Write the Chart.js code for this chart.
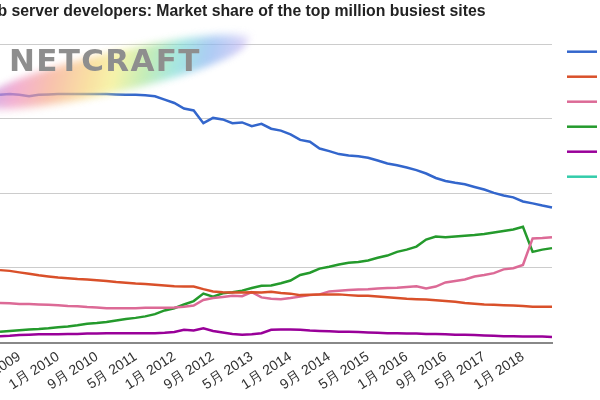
<!DOCTYPE html>
<html>
<head>
<meta charset="utf-8">
<script src="https://cdn.jsdelivr.net/npm/chart.js@4.4.1/dist/chart.umd.min.js"></script>
<style>
  html, body { margin: 0; padding: 0; background: #ffffff; }
  #frame { position: relative; width: 600px; height: 400px; overflow: hidden; background: #ffffff; }
  #wrap { position: absolute; left: -26px; top: 0; width: 673px; height: 400px; }
  #swash {
    position: absolute; left: -20px; top: 52px; width: 270px; height: 40px;
    background: linear-gradient(90deg, #b98ee6 0%, #ee8fbf 12%, #f6a98a 26%, #f7d27c 40%, #f3ef86 50%, #abe59a 62%, #7fdcd6 74%, #8ab6f0 86%, #cdbcf3 100%);
    border-radius: 50% 45% 50% 45%;
    transform: rotate(-12deg) skewX(-25deg);
    filter: blur(4px); opacity: 0.7; z-index: 2;
  }
  #logo {
    position: absolute; left: 9px; top: 45px; z-index: 3;
    font-family: "DejaVu Sans", sans-serif; font-weight: bold; font-size: 31px; line-height: 31px;
    letter-spacing: 1.3px; color: #8e8e8e; white-space: nowrap;
  }
</style>
</head>
<body>
<div id="frame">
  <div id="wrap"><canvas id="c"></canvas></div>
  <div id="swash"></div>
  <div id="logo">NETCRAFT</div>
</div>
<script>
const categories = [
  '1月 2009','3月 2009','5月 2009','7月 2009','9月 2009','11月 2009',
  '1月 2010','3月 2010','5月 2010','7月 2010','9月 2010','11月 2010',
  '1月 2011','3月 2011','5月 2011','7月 2011','9月 2011','11月 2011',
  '1月 2012','3月 2012','5月 2012','7月 2012','9月 2012','11月 2012',
  '1月 2013','3月 2013','5月 2013','7月 2013','9月 2013','11月 2013',
  '1月 2014','3月 2014','5月 2014','7月 2014','9月 2014','11月 2014',
  '1月 2015','3月 2015','5月 2015','7月 2015','9月 2015','11月 2015',
  '1月 2016','3月 2016','5月 2016','7月 2016','9月 2016','11月 2016',
  '1月 2017','3月 2017','5月 2017','7月 2017','9月 2017','11月 2017',
  '1月 2018','3月 2018','5月 2018','7月 2018'
];
const seriesNames = ['Apache', 'Microsoft', 'Other', 'nginx', 'Google', 'NCSA'];
const apache = [66.4, 66.6, 66.4, 66.0, 66.4, 66.5, 66.6, 66.6, 66.6, 66.6,
  66.6, 66.6, 66.5, 66.4, 66.4, 66.3, 66.0, 65.1, 64.2, 62.7,
  62.2, 58.8, 60.2, 59.8, 58.8, 59.0, 58.0, 58.6, 57.3, 56.8,
  55.8, 54.3, 53.8, 52.0, 51.3, 50.5, 50.1, 49.9, 49.5, 48.8,
  48.0, 47.5, 46.9, 46.2, 45.3, 44.1, 43.3, 42.8, 42.4, 41.7,
  41.0, 40.1, 39.4, 38.9, 37.8, 37.3, 36.7, 36.2];
const microsoft = [19.4, 19.2, 18.8, 18.4, 18.0, 17.7, 17.4, 17.2, 17.0, 16.9,
  16.7, 16.5, 16.2, 16.0, 15.8, 15.7, 15.5, 15.3, 15.1, 15.0,
  15.0, 14.3, 13.7, 13.5, 13.4, 13.4, 13.5, 13.4, 13.6, 13.3,
  13.1, 12.7, 12.8, 12.9, 12.9, 12.9, 12.7, 12.5, 12.5, 12.3,
  12.1, 11.9, 11.7, 11.6, 11.5, 11.3, 11.1, 10.9, 10.6, 10.4,
  10.2, 10.1, 10.0, 9.9, 9.8, 9.6, 9.6, 9.6];
const other = [10.6, 10.5, 10.3, 10.3, 10.2, 10.1, 10.0, 9.8, 9.7, 9.5,
  9.4, 9.2, 9.2, 9.2, 9.2, 9.3, 9.3, 9.3, 9.4, 9.6,
  9.9, 11.4, 11.9, 12.2, 12.5, 12.4, 13.5, 12.1, 11.7, 11.6,
  11.9, 12.3, 12.7, 12.9, 13.7, 13.9, 14.1, 14.2, 14.3, 14.5,
  14.6, 14.7, 14.9, 15.1, 14.5, 15.0, 16.1, 16.5, 16.9, 17.7,
  18.1, 18.6, 19.6, 19.9, 20.8, 27.9, 28.0, 28.2];
const nginx = [2.9, 3.1, 3.3, 3.5, 3.6, 3.8, 4.1, 4.3, 4.6, 5.0,
  5.2, 5.5, 5.9, 6.3, 6.6, 7.0, 7.6, 8.6, 9.2, 10.2,
  11.1, 13.1, 12.3, 13.2, 13.5, 13.9, 14.6, 15.2, 15.3, 15.9,
  16.6, 18.1, 18.7, 19.8, 20.3, 20.9, 21.4, 21.6, 22.0, 22.7,
  23.3, 24.3, 24.9, 25.7, 27.6, 28.4, 28.2, 28.4, 28.6, 28.8,
  29.1, 29.5, 29.9, 30.3, 31.0, 24.3, 24.9, 25.3];
const google = [1.7, 1.8, 2.0, 2.1, 2.2, 2.2, 2.2, 2.3, 2.3, 2.4,
  2.4, 2.5, 2.5, 2.5, 2.5, 2.5, 2.5, 2.6, 2.8, 3.4,
  3.2, 3.8, 3.1, 2.7, 2.3, 2.1, 2.2, 2.5, 3.4, 3.5,
  3.5, 3.4, 3.2, 3.1, 3.0, 2.9, 2.9, 2.8, 2.7, 2.6,
  2.5, 2.5, 2.4, 2.4, 2.3, 2.3, 2.2, 2.1, 2.1, 2.0,
  1.9, 1.8, 1.7, 1.7, 1.6, 1.6, 1.6, 1.5];
const ncsa = [];
const yTicks = [0, 20, 40, 60, 80];
const colors = ['#3366cc', '#d9502a', '#dc6a96', '#249a2c', '#990099', '#33ccaa'];
const seriesValues = [apache, microsoft, other, nginx, google, ncsa];

const datasets = seriesNames.map((name, k) => ({
  label: name,
  data: seriesValues[k],
  borderColor: colors[k],
  backgroundColor: colors[k],
  borderWidth: 2.5,
  pointRadius: 0,
  tension: 0,
  fill: false
}));

new Chart(document.getElementById('c'), {
  type: 'line',
  data: { labels: categories, datasets },
  options: {
    responsive: true,
    maintainAspectRatio: false,
    animation: false,
    layout: { padding: 0 },
    plugins: {
      title: {
        display: true,
        text: 'Web server developers: Market share of the top million busiest sites',
        align: 'start',
        color: '#222222',
        font: { family: '"Liberation Sans", Arial, sans-serif', size: 15.8, weight: 'bold' },
        padding: { top: 2, bottom: 23.1 }
      },
      legend: {
        position: 'right',
        align: 'start',
        maxWidth: 95,
        title: { display: true, text: ' ', font: { size: 10 }, padding: { top: 19.7, bottom: 0 } },
        labels: {
          usePointStyle: true,
          pointStyle: 'line',
          pointStyleWidth: 30,
          padding: 15,
          color: '#222222',
          font: { family: '"Liberation Sans", Arial, sans-serif', size: 10 }
        }
      },
      tooltip: { enabled: false }
    },
    scales: {
      x: {
        type: 'category',
        offset: false,
        grid: { display: false, drawTicks: false },
        border: { display: true, color: '#888888', width: 2 },
        afterFit: (s) => { s.height = 57.5; s.paddingLeft = 0; s.paddingRight = 0; },
        ticks: {
          autoSkip: false,
          minRotation: 33,
          maxRotation: 33,
          padding: 6,
          color: '#333333',
          font: { family: '"Liberation Sans", Arial, sans-serif', size: 14 },
          callback: function (v, i) { return i % 4 === 2 ? categories[i] : null; }
        }
      },
      y: {
        min: 0,
        max: 80,
        afterFit: (s) => { s.width = 26; },
        afterBuildTicks: (s) => { s.ticks = yTicks.map(v => ({ value: v })); },
        grid: { color: '#cccccc', lineWidth: 1, drawTicks: false },
        border: { display: false },
        ticks: {
          color: '#444444',
          font: { family: '"Liberation Sans", Arial, sans-serif', size: 13 },
          callback: (v) => v + '%'
        }
      }
    }
  }
});
</script>
</body>
</html>
